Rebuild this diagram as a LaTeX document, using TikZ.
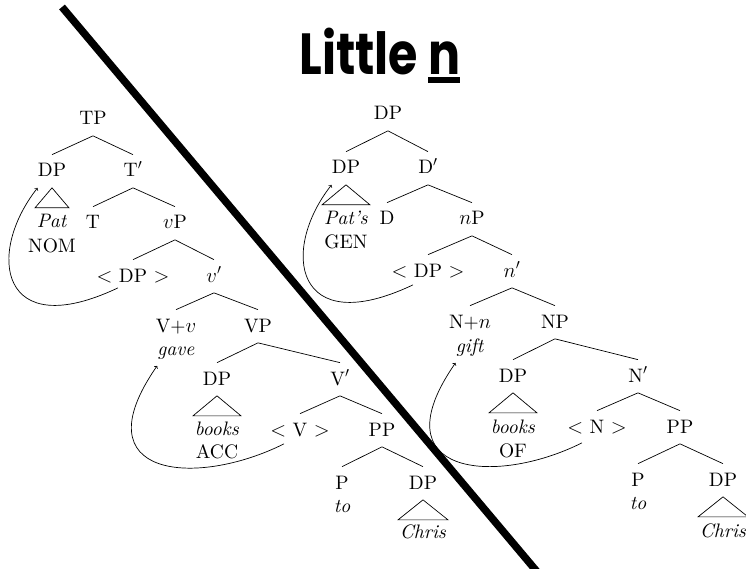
\documentclass[tikz,border=0pt]{standalone}
\usepackage{fontspec}
\usepackage{graphicx}
\setmainfont{lmroman10-regular.otf}[ItalicFont=lmroman10-italic.otf, BoldFont=lmroman10-bold.otf]
\newfontfamily\titlefont{Poppins}
\usetikzlibrary{positioning,arrows}
\newcommand{\thickul}[1]{\setbox0\hbox{#1}\rlap{\rule[-8pt]{\wd0}{6pt}}\box0}

\begin{document}
\begin{tikzpicture}[x=1pt, y=-1pt, on grid, line width=0.7pt,
  cat/.style={inner sep=0pt, text height=22pt, text depth=10.5pt, font=\fontsize{19.5}{24}\selectfont},
  every node/.style={cat}]
 \useasboundingbox (0,0) rectangle (746,569);
 \node (title) [anchor=base, font=\titlefont\bfseries\fontsize{58}{60}\selectfont] at (380,75) {\scalebox{0.82}[1]{Little \thickul{n}}};
 \coordinate (slashtop) at (62,7);
 \coordinate (slashbot) at (544,580);
 \draw[line width=7.5pt] (slashtop) -- (slashbot);

 \node (TP) [anchor=base] at (93,125) {TP};
 \node (DPa) [below left=52pt and 41pt of TP] {DP};
 \node (Tbar) [below right=52pt and 40pt of TP] {T$'$};
 \node (Pat) [below=51pt of DPa] {\textit{Pat}};
 \node (NOM) [below=24pt of Pat] {NOM};
 \node (T) [below left=52pt and 40pt of Tbar] {T};
 \node (vP) [below right=52pt and 42pt of Tbar] {$v$P};
 \node (DPt) [below left=53pt and 42pt of vP] {$<$ DP $>$};
 \node (vbar) [below right=53pt and 39pt of vP] {$v'$};
 \node (Vv) [below left=50pt and 38pt of vbar] {V+$v$};
 \node (VP) [below right=50pt and 44pt of vbar] {VP};
 \node (gave) [below=23pt of Vv] {\textit{gave}};
 \node (DPb) [below left=53pt and 41pt of VP] {DP};
 \node (Vbar) [below right=53pt and 82pt of VP] {V$'$};
 \node (books) [below=50pt of DPb] {\textit{books}};
 \node (ACC) [below=23pt of books] {ACC};
 \node (Vt) [below left=51pt and 40pt of Vbar] {$<$ V $>$};
 \node (PP) [below right=51pt and 42pt of Vbar] {PP};
 \node (P) [below left=53pt and 40pt of PP] {P};
 \node (DPc) [below right=53pt and 41pt of PP] {DP};
 \node (to) [below=23pt of P] {\textit{to}};
 \node (Chris) [below=49pt of DPc] {\textit{Chris}};

 \draw (TP.south) -- (DPa.north) (TP.south) -- (Tbar.north);
 \draw (Tbar.south) -- (T.north) (Tbar.south) -- (vP.north);
 \draw (vP.south) -- (DPt.north) (vP.south) -- (vbar.north);
 \draw (vbar.south) -- (Vv.north) (vbar.south) -- (VP.north);
 \draw (VP.south) -- (DPb.north) (VP.south) -- (Vbar.north);
 \draw (Vbar.south) -- (Vt.north) (Vbar.south) -- (PP.north);
 \draw (PP.south) -- (P.north) (PP.south) -- (DPc.north);
 \draw (DPa.south) -- +(-17,20) -- +(17,20) -- cycle;
 \draw (DPb.south) -- +(-24,20) -- +(24,20) -- cycle;
 \draw (DPc.south) -- +(-25,20) -- +(25,20) -- cycle;
 \draw[->] ([xshift=-15pt,yshift=5pt]DPt.south) .. controls +(-118,56) and +(-52,66) .. (DPa.south west);
 \draw[->] ([xshift=-16pt,yshift=3pt]Vt.south) .. controls +(-88,44) and +(-78,112) .. (gave.south west);

 \node (nDP) [anchor=base] at (388,120) {DP};
 \node (nDPa) [below left=54pt and 42pt of nDP] {DP};
 \node (nDbar) [below right=54pt and 40pt of nDP] {D$'$};
 \node (nPats) [below=51pt of nDPa] {\textit{Pat's}};
 \node (nGEN) [below=23pt of nPats] {GEN};
 \node (nD) [below left=51pt and 41pt of nDbar] {D};
 \node (nnP) [below right=51pt and 44pt of nDbar] {$n$P};
 \node (nDPt) [below left=52pt and 44pt of nnP] {$<$ DP $>$};
 \node (nnbar) [below right=52pt and 40pt of nnP] {$n'$};
 \node (nNn) [below left=51pt and 42pt of nnbar] {N+$n$};
 \node (nNP) [below right=51pt and 43pt of nnbar] {NP};
 \node (ngift) [below=24pt of nNn] {\textit{gift}};
 \node (nDPb) [below left=54pt and 42pt of nNP] {DP};
 \node (nNbar) [below right=54pt and 83pt of nNP] {N$'$};
 \node (nbooks) [below=51pt of nDPb] {\textit{books}};
 \node (nOF) [below=24pt of nbooks] {OF};
 \node (nNt) [below left=51pt and 41pt of nNbar] {$<$ N $>$};
 \node (nPP) [below right=51pt and 42pt of nNbar] {PP};
 \node (nP) [below left=53pt and 42pt of nPP] {P};
 \node (nDPc) [below right=53pt and 43pt of nPP] {DP};
 \node (nto) [below=23pt of nP] {\textit{to}};
 \node (nChris) [below=51pt of nDPc] {\textit{Chris}};

 \draw (nDP.south) -- (nDPa.north) (nDP.south) -- (nDbar.north);
 \draw (nDbar.south) -- (nD.north) (nDbar.south) -- (nnP.north);
 \draw (nnP.south) -- (nDPt.north) (nnP.south) -- (nnbar.north);
 \draw (nnbar.south) -- (nNn.north) (nnbar.south) -- (nNP.north);
 \draw (nNP.south) -- (nDPb.north) (nNP.south) -- (nNbar.north);
 \draw (nNbar.south) -- (nNt.north) (nNbar.south) -- (nPP.north);
 \draw (nPP.south) -- (nP.north) (nPP.south) -- (nDPc.north);
 \draw (nDPa.south) -- +(-24,20) -- +(24,20) -- cycle;
 \draw (nDPb.south) -- +(-24,20) -- +(24,20) -- cycle;
 \draw (nDPc.south) -- +(-25,20) -- +(25,20) -- cycle;
 \draw[->] ([xshift=-15pt,yshift=3pt]nDPt.south) .. controls +(-118,56) and +(-52,66) .. (nDPa.south west);
 \draw[->] ([xshift=-15pt,yshift=1pt]nNt.south) .. controls +(-88,44) and +(-78,112) .. (ngift.south west);
\end{tikzpicture}
\end{document}
